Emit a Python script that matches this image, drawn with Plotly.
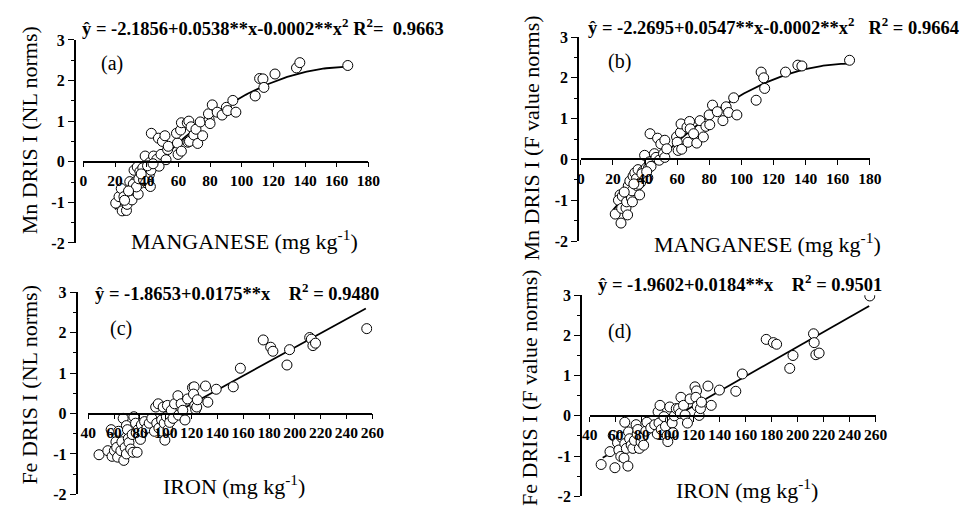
import numpy as np
import plotly.graph_objects as go

# ---------------- data ----------------
# (a) Mn DRIS I (NL norms) vs Mn concentration
mn_x_a = [20.4, 22.5, 23.9, 24.5, 25.6, 27.2, 27.6, 29.7, 30.7, 30.5, 29.3, 33.0, 34.6, 32.0, 34.0,
          35.7, 37.0, 36.0, 39.0, 39.6, 40.2, 42.3, 41.6, 42.7, 41.9, 44.3, 42.9, 46.4, 47.8, 49.0,
          47.4, 49.9, 51.5, 52.2, 53.2, 53.6, 59.4, 59.8, 58.8, 61.9, 61.4, 61.9, 65.6, 66.6, 66.0,
          67.0, 68.0, 69.7, 71.1, 72.2, 73.8, 75.3, 79.4, 80.0, 79.0, 81.4, 84.5, 87.6, 90.3, 91.1,
          94.4, 96.3, 108.5, 111.3, 113.4, 114.0, 121.0, 134.6, 136.7, 167.0,
          31.5, 33.5, 35.0, 37.5, 38.0, 40.5, 44.0, 28.5, 26.0, 36.5]
mn_y_a = [-1.02, -0.86, -0.66, -1.21, -0.86, -1.20, -1.05, -0.82, -0.94, -0.69, -0.49, -0.49, -0.80, -0.21, -0.13,
          -0.24, -0.33, -0.53, 0.14, -0.41, -0.53, -0.61, -0.32, -0.21, -0.02, 0.14, 0.70, 0.06, -0.11, 0.18,
          0.58, 0.50, 0.64, 0.05, 0.30, 0.38, 0.46, 0.18, 0.70, 0.26, 0.78, 0.96, 0.96, 1.00, 0.48,
          0.50, 0.86, 0.66, 0.80, 0.45, 0.98, 0.64, 1.04, 0.94, 1.18, 1.40, 1.22, 1.15, 1.34, 1.26,
          1.51, 1.22, 1.62, 2.05, 2.04, 1.83, 2.16, 2.31, 2.44, 2.37,
          -0.55, -0.62, -0.42, -0.15, -0.45, -0.10, -0.05, -0.72, -0.95, -0.30]

# (b) Mn DRIS I (F value norms) vs Mn concentration
mn_x_b = [21.4, 25.0, 24.4, 23.4, 25.8, 25.4, 28.1, 28.5, 29.1, 29.5, 30.5, 31.5, 32.1, 31.9, 32.5,
          33.6, 34.6, 35.2, 35.6, 36.6, 37.2, 36.0, 38.6, 39.7, 39.7, 40.7, 41.7, 42.1, 42.7, 43.1,
          43.7, 45.8, 46.8, 47.8, 48.8, 49.8, 51.5, 52.3, 52.3, 53.5, 59.6, 60.0, 60.6, 62.0, 62.4,
          62.8, 66.1, 66.7, 67.7, 68.1, 70.2, 72.2, 74.2, 76.3, 77.9, 79.9, 80.3, 82.0, 85.0, 88.5,
          90.5, 92.0, 95.2, 97.2, 109.2, 112.3, 113.9, 114.5, 127.5, 135.2, 137.7, 167.4,
          27.0, 33.0, 38.0, 41.0]
mn_y_b = [-1.34, -1.56, -0.87, -1.00, -0.90, -1.20, -1.19, -1.04, -1.36, -0.65, -0.53, -0.95, -1.04, -0.77, -0.41,
          -0.33, -0.47, -0.65, -0.25, -0.87, -0.57, -0.61, -0.29, 0.10, -0.40, -0.21, -0.45, -0.21, -0.06, 0.63,
          -0.17, 0.14, 0.05, 0.52, -0.02, 0.38, 0.14, 0.47, 0.05, 0.26, 0.55, 0.42, 0.22, 0.66, 0.87,
          0.25, 0.79, 0.42, 0.93, 0.75, 0.63, 0.40, 0.95, 0.55, 0.81, 1.09, 0.85, 1.33, 1.17, 0.95,
          1.29, 1.15, 1.51, 1.09, 1.45, 2.14, 2.00, 1.74, 2.14, 2.31, 2.29, 2.43,
          -0.80, -0.60, -0.35, -0.30]

# (c) Fe DRIS I (NL norms) vs Fe concentration
fe_x_c = [48.3, 55.1, 58.4, 57.7, 60.2, 61.4, 62.7, 63.5, 62.0, 65.2, 66.0, 67.0, 67.5, 68.5, 69.5,
          69.5, 70.3, 71.0, 71.5, 72.8, 74.0, 74.6, 75.3, 76.6, 77.1, 77.8, 78.6, 80.4, 81.1, 82.1,
          83.6, 85.4, 87.2, 89.2, 91.2, 92.2, 93.0, 94.2, 94.7, 96.8, 97.3, 98.0, 98.8, 99.3, 100.5,
          101.3, 101.8, 103.0, 104.3, 105.6, 106.8, 109.4, 109.9, 111.9, 113.2, 114.9, 116.9, 120.7, 122.0, 121.5,
          122.5, 123.2, 124.0, 124.5, 130.8, 132.6, 139.1, 152.3, 157.8, 175.5, 181.3, 183.0, 193.9, 195.9, 211.5,
          212.8, 214.0, 216.0, 255.7]
fe_y_c = [-1.02, -0.92, -1.06, -0.40, -0.92, -0.70, -1.08, -0.44, -0.84, -0.92, -0.70, -0.12, -1.16, -0.84, -1.00,
          -0.30, -0.40, -0.62, -0.72, -0.88, -0.52, -0.96, -0.08, -0.24, -0.48, -0.96, -0.40, -0.64, -0.28, -0.46,
          -0.20, -0.36, -0.24, -0.12, -0.44, 0.16, -0.24, 0.24, -0.36, -0.16, -0.44, 0.16, -0.24, -0.66, -0.08,
          0.20, -0.40, -0.22, 0.08, -0.12, 0.24, 0.44, -0.04, 0.24, 0.08, -0.16, 0.36, 0.64, 0.66, 0.48,
          0.20, 0.10, 0.16, 0.34, 0.68, 0.28, 0.60, 0.66, 1.12, 1.82, 1.64, 1.54, 1.20, 1.58, 1.88,
          1.84, 1.68, 1.74, 2.10]

# (d) Fe DRIS I (F value norms) vs Fe concentration
fe_x_d = [48.8, 55.6, 59.4, 58.1, 61.4, 62.4, 63.9, 64.4, 67.0, 67.0, 66.4, 68.2, 69.4, 69.9, 70.7,
          71.9, 73.2, 74.4, 75.7, 76.5, 77.0, 78.2, 79.5, 80.7, 81.5, 83.2, 84.0, 87.0, 90.0, 92.0,
          92.6, 94.1, 93.3, 95.0, 97.1, 98.3, 99.6, 100.1, 101.6, 102.1, 103.4, 104.1, 105.1, 106.6, 108.4,
          110.2, 109.7, 112.2, 113.4, 115.2, 117.2, 121.0, 122.2, 121.7, 122.7, 124.2, 125.2, 126.0, 131.0, 133.5,
          139.8, 152.4, 157.4, 175.8, 181.3, 183.8, 193.9, 196.4, 212.2, 212.7, 214.0, 216.5, 255.5]
fe_y_d = [-1.21, -0.89, -1.29, -0.49, -0.67, -0.85, -1.01, -0.53, -0.16, -0.69, -1.05, -0.81, -1.25, -0.40, -0.57,
          -0.73, -0.81, -0.61, -0.22, -0.45, -0.34, -0.81, -0.65, -0.53, -0.73, -0.38, -0.16, -0.30, -0.22, -0.45,
          0.10, 0.26, -0.18, -0.34, -0.02, -0.26, -0.49, -0.64, 0.22, -0.10, -0.18, -0.42, 0.00, 0.18, 0.18,
          0.46, 0.06, 0.26, 0.02, -0.18, 0.42, 0.72, 0.62, 0.46, 0.24, 0.01, 0.18, 0.34, 0.74, 0.26,
          0.64, 0.61, 1.04, 1.90, 1.82, 1.78, 1.18, 1.50, 2.04, 1.82, 1.52, 1.56, 2.98]

# regression models (intercept, linear, quadratic) as drawn
fit_a = (-2.1856, 0.0538, -0.00016)
fit_b = (-2.2695, 0.0547, -0.000162)
fit_c = (-1.8653, 0.0175, 0.0)
fit_d = (-1.9602, 0.0184, 0.0)
fit_span_a = (20, 167)
fit_span_b = (20, 167)
fit_span_c = (49, 255)
fit_span_d = (50, 255)

y_tickvals = [-2, -1, 0, 1, 2, 3]
y_ticktext = ["-2", "-1", "0", "1", "2", "3"]
mn_ticks = [0, 20, 40, 60, 80, 100, 120, 140, 160, 180]
fe_ticks = [40, 60, 80, 100, 120, 140, 160, 180, 200, 220, 240, 260]

eq_a = "<b>ŷ = -2.1856+0.0538**x-0.0002**x<sup>2</sup>\u00a0R<sup>2</sup>=\u00a0\u00a00.9663</b>"
eq_b = "<b>ŷ = -2.2695+0.0547**x-0.0002**x<sup>2</sup>\u00a0\u00a0\u00a0R<sup>2</sup> = 0.9664</b>"
eq_c = "<b>ŷ = -1.8653+0.0175**x\u00a0\u00a0\u00a0\u00a0R<sup>2</sup> = 0.9480</b>"
eq_d = "<b>ŷ = -1.9602+0.0184**x\u00a0\u00a0\u00a0\u00a0R<sup>2</sup> = 0.9501</b>"

# ---------------- layout geometry (window pixels) ----------------
W, H = 966, 513
FONT = "Liberation Serif"


def fx(p):
    return p / W


def fy(p):
    return 1 - p / H


def bold(labels):
    return [f"<b>{t}</b>" for t in labels]


panels = [
    dict(x=mn_x_a, y=mn_y_a, fit=fit_a, span=fit_span_a, xr=[0, 180], ticks=mn_ticks,
         px=(77, 368), py=(33, 243), yax=68, label="(a)", lab_xy=(93, 57),
         eq=eq_a, eq_xy=(74, 20), ytitle="Mn DRIS I (NL norms)", yt_xy=(22, 127),
         xtitle="MANGANESE (mg kg<sup>-1</sup>)", xt_xy=(242, 240)),
    dict(x=mn_x_b, y=mn_y_b, fit=fit_b, span=fit_span_b, xr=[0, 180], ticks=mn_ticks,
         px=(585, 880), py=(30, 241), yax=582, label="(b)", lab_xy=(611, 55),
         eq=eq_b, eq_xy=(590, 19), ytitle="Mn DRIS I (F value norms)", yt_xy=(535, 134),
         xtitle="MANGANESE (mg kg<sup>-1</sup>)", xt_xy=(776, 243)),
    dict(x=fe_x_c, y=fe_y_c, fit=fit_c, span=fit_span_c, xr=[40, 260], ticks=fe_ticks,
         px=(82, 372), py=(294, 503), yax=70, label="(c)", lab_xy=(102, 331),
         eq=eq_c, eq_xy=(87, 294), ytitle="Fe DRIS I (NL norms)", yt_xy=(22, 390),
         xtitle="IRON (mg kg<sup>-1</sup>)", xt_xy=(231, 493)),
    dict(x=fe_x_d, y=fe_y_d, fit=fit_d, span=fit_span_d, xr=[40, 260], ticks=fe_ticks,
         px=(594, 886), py=(297, 505), yax=585, label="(d)", lab_xy=(611, 335),
         eq=eq_d, eq_xy=(600, 284), ytitle="Fe DRIS I (F value norms)", yt_xy=(533, 393),
         xtitle="IRON (mg kg<sup>-1</sup>)", xt_xy=(755, 497)),
]

fig = go.Figure()
annotations = []
layout_axes = {}

for i, p in enumerate(panels, start=1):
    xa = "x" if i == 1 else f"x{i}"
    ya = "y" if i == 1 else f"y{i}"
    xkey = "xaxis" if i == 1 else f"xaxis{i}"
    ykey = "yaxis" if i == 1 else f"yaxis{i}"

    a0, a1, a2 = p["fit"]
    xs = np.linspace(p["span"][0], p["span"][1], 120)
    ys = a0 + a1 * xs + a2 * xs ** 2
    fig.add_trace(go.Scatter(x=xs, y=ys, mode="lines", line=dict(color="black", width=1.8),
                             xaxis=xa, yaxis=ya, showlegend=False, hoverinfo="skip"))
    fig.add_trace(go.Scatter(x=p["x"], y=p["y"], mode="markers",
                             marker=dict(symbol="circle", size=10, color="white",
                                         line=dict(color="black", width=1)),
                             xaxis=xa, yaxis=ya, showlegend=False))

    ytop, ybot = p["py"]
    y0px = ytop + 3 / 5 * (ybot - ytop)
    layout_axes[xkey] = dict(
        domain=[fx(p["px"][0]), fx(p["px"][1])], range=p["xr"],
        anchor="free", position=fy(y0px),
        showline=True, linecolor="black", linewidth=1.5,
        tickvals=p["ticks"], ticktext=bold([str(t) for t in p["ticks"]]),
        ticks="outside", ticklen=5, tickwidth=1.2, tickcolor="black",
        tickfont=dict(family=FONT, size=15.5, color="black", weight="bold"),
        showgrid=False, zeroline=False, fixedrange=True,
    )
    layout_axes[ykey] = dict(
        domain=[fy(ybot), fy(ytop)], range=[-2, 3],
        anchor="free", position=fx(p["yax"]),
        showline=True, linecolor="black", linewidth=1.5,
        tickvals=y_tickvals, ticktext=bold(y_ticktext),
        ticks="outside", ticklen=6, tickwidth=1.2, tickcolor="black",
        minor=dict(dtick=0.5, ticks="outside", ticklen=3, tickcolor="black", tickwidth=1),
        tickfont=dict(family=FONT, size=16, color="black", weight="bold"),
        showgrid=False, zeroline=False, fixedrange=True,
    )

    annotations.append(dict(text=p["eq"], x=fx(p["eq_xy"][0]), y=fy(p["eq_xy"][1]),
                            xref="paper", yref="paper", xanchor="left", yanchor="middle",
                            showarrow=False, font=dict(family=FONT, size=18.5, color="black")))
    annotations.append(dict(text=p["label"], x=fx(p["lab_xy"][0]), y=fy(p["lab_xy"][1]),
                            xref="paper", yref="paper", xanchor="left", yanchor="middle",
                            showarrow=False, font=dict(family=FONT, size=20, color="black")))
    annotations.append(dict(text=p["ytitle"], x=fx(p["yt_xy"][0]), y=fy(p["yt_xy"][1]),
                            xref="paper", yref="paper", xanchor="center", yanchor="middle",
                            textangle=-90, showarrow=False,
                            font=dict(family=FONT, size=22, color="black")))
    annotations.append(dict(text=p["xtitle"], x=fx(p["xt_xy"][0]), y=fy(p["xt_xy"][1]),
                            xref="paper", yref="paper", xanchor="center", yanchor="middle",
                            showarrow=False, font=dict(family=FONT, size=22, color="black")))

fig.update_layout(
    width=W, height=H,
    margin=dict(l=0, r=0, t=0, b=0),
    paper_bgcolor="white", plot_bgcolor="white",
    annotations=annotations,
    **layout_axes,
)

fig.write_html(
    "out.html",
    config={"displayModeBar": False},
    post_script="document.body.style.margin='0';document.body.style.overflow='hidden';",
)
